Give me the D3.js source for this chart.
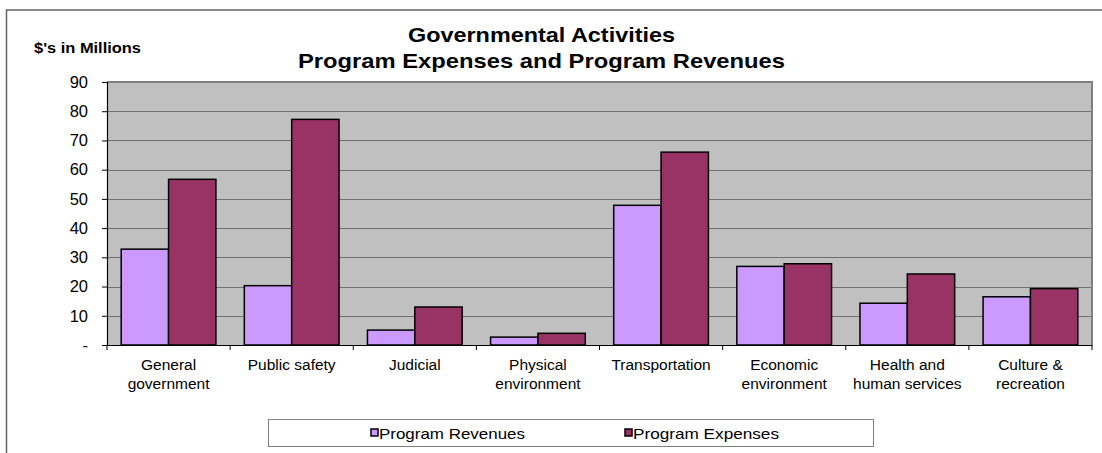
<!DOCTYPE html>
<html>
<head>
<meta charset="utf-8">
<script src="https://cdn.jsdelivr.net/npm/d3@7"></script>
<style>
  html, body { margin: 0; padding: 0; background: #fff; }
  svg { display: block; font-family: Arial, "Liberation Sans", sans-serif; }
</style>
</head>
<body>
<svg id="chart" width="1102" height="453"></svg>
<script>
// Program categories (two-line axis labels)
const categories = [
  ["General", "government"],
  ["Public safety"],
  ["Judicial"],
  ["Physical", "environment"],
  ["Transportation"],
  ["Economic", "environment"],
  ["Health and", "human services"],
  ["Culture &", "recreation"]
];
// $ in millions
const programRevenues = [32.8, 20.3, 5.1, 2.7, 47.8, 26.9, 14.3, 16.5];
const programExpenses = [56.7, 77.2, 13.0, 4.0, 66.0, 27.8, 24.3, 19.3];
const seriesNames = ["Program Revenues", "Program Expenses"];
const seriesColors = ["#CC99FF", "#993366"];
const yTicks = [0, 10, 20, 30, 40, 50, 60, 70, 80, 90];

const svg = d3.select("#chart");
const plot = { left: 107, right: 1092, top: 82, bottom: 345 };

// outer chart frame (top and left edges visible)
svg.append("path")
  .attr("d", "M6.5,453 L6.5,10 L1102,10")
  .attr("fill", "none").attr("stroke", "#666").attr("stroke-width", 1.5);

const x = d3.scaleBand()
  .domain(d3.range(categories.length))
  .range([plot.left, plot.right])
  .paddingInner(0).paddingOuter(0);
const x1 = d3.scaleBand()
  .domain([0, 1])
  .range([0, x.bandwidth()])
  .paddingOuter(0.3).paddingInner(0);
const y = d3.scaleLinear().domain([0, 90]).range([plot.bottom, plot.top]);

// plot background
svg.append("rect")
  .attr("x", plot.left).attr("y", plot.top)
  .attr("width", plot.right - plot.left).attr("height", plot.bottom - plot.top)
  .attr("fill", "#C0C0C0");

// gridlines
svg.append("g")
  .selectAll("line").data(yTicks.filter(d => d > 0 && d < 90)).join("line")
  .attr("x1", plot.left).attr("x2", plot.right)
  .attr("y1", d => Math.round(y(d)) + 0.5).attr("y2", d => Math.round(y(d)) + 0.5)
  .attr("stroke", "#707070").attr("stroke-width", 1);

// plot border top/right
svg.append("path")
  .attr("d", `M${plot.left},${plot.top} L${plot.right},${plot.top} L${plot.right},${plot.bottom}`)
  .attr("fill", "none").attr("stroke", "#808080").attr("stroke-width", 2);

// bars
const series = [programRevenues, programExpenses];
series.forEach((vals, s) => {
  svg.append("g").selectAll("rect").data(vals).join("rect")
    .attr("x", (d, i) => x(i) + x1(s))
    .attr("y", d => y(d))
    .attr("width", x1.bandwidth())
    .attr("height", d => y(0) - y(d))
    .attr("fill", seriesColors[s])
    .attr("stroke", "#000").attr("stroke-width", 1.5);
});

// y axis
const yAxis = d3.axisLeft(y).tickValues(yTicks).tickSize(5).tickPadding(14)
  .tickFormat(d => d === 0 ? "-" : d);
const gy = svg.append("g").attr("transform", `translate(${plot.left},0)`).call(yAxis);
gy.select(".domain").attr("stroke", "#000").attr("stroke-width", 1.2);
gy.selectAll(".tick line").attr("stroke", "#000");
gy.selectAll(".tick text").attr("font-size", 16.5).attr("fill", "#000")
  .attr("font-family", "Arial, 'Liberation Sans', sans-serif");

// x axis baseline and category separators
const xAxis = d3.axisBottom(x).tickSize(0).tickFormat("");
const gx = svg.append("g").attr("transform", `translate(0,${plot.bottom})`).call(xAxis);
gx.select(".domain").attr("stroke", "#000").attr("stroke-width", 1.2);
gx.selectAll(".tick").remove();
const bounds = d3.range(categories.length + 1).map(i => plot.left + i * x.step());
gx.selectAll("line.sep").data(bounds).join("line").attr("class", "sep")
  .attr("x1", d => d).attr("x2", d => d).attr("y1", 0).attr("y2", 5)
  .attr("stroke", "#000");

// category labels
const labels = svg.append("g").attr("font-size", 15.5).attr("text-anchor", "middle").attr("fill", "#000");
categories.forEach((lines, i) => {
  const t = labels.append("text").attr("x", x(i) + x.bandwidth() / 2).attr("y", 370);
  lines.forEach((ln, k) => t.append("tspan")
    .attr("x", x(i) + x.bandwidth() / 2).attr("dy", k === 0 ? 0 : 18.5).text(ln));
});

// titles
svg.append("text").attr("x", 408).attr("y", 42)
  .attr("font-size", 21).attr("font-weight", "bold")
  .attr("textLength", 267).attr("lengthAdjust", "spacingAndGlyphs")
  .text("Governmental Activities");
svg.append("text").attr("x", 298).attr("y", 68)
  .attr("font-size", 21).attr("font-weight", "bold")
  .attr("textLength", 487).attr("lengthAdjust", "spacingAndGlyphs")
  .text("Program Expenses and Program Revenues");
svg.append("text").attr("x", 34).attr("y", 52.5)
  .attr("font-size", 15).attr("font-weight", "bold")
  .attr("textLength", 107).attr("lengthAdjust", "spacingAndGlyphs")
  .text("$'s in Millions");

// legend
const lg = svg.append("g");
lg.append("rect").attr("x", 268.5).attr("y", 419.5).attr("width", 605).attr("height", 27)
  .attr("fill", "#fff").attr("stroke", "#808080").attr("stroke-width", 1);
const legendX = [371, 625];
const legendW = [146, 146];
seriesNames.forEach((name, s) => {
  lg.append("rect").attr("x", legendX[s]).attr("y", 429).attr("width", 7).attr("height", 7)
    .attr("fill", seriesColors[s]).attr("stroke", "#000").attr("stroke-width", 1.5);
  lg.append("text").attr("x", legendX[s] + 8).attr("y", 438.5)
    .attr("font-size", 15)
    .attr("textLength", legendW[s]).attr("lengthAdjust", "spacingAndGlyphs")
    .text(name);
});
</script>
</body>
</html>
